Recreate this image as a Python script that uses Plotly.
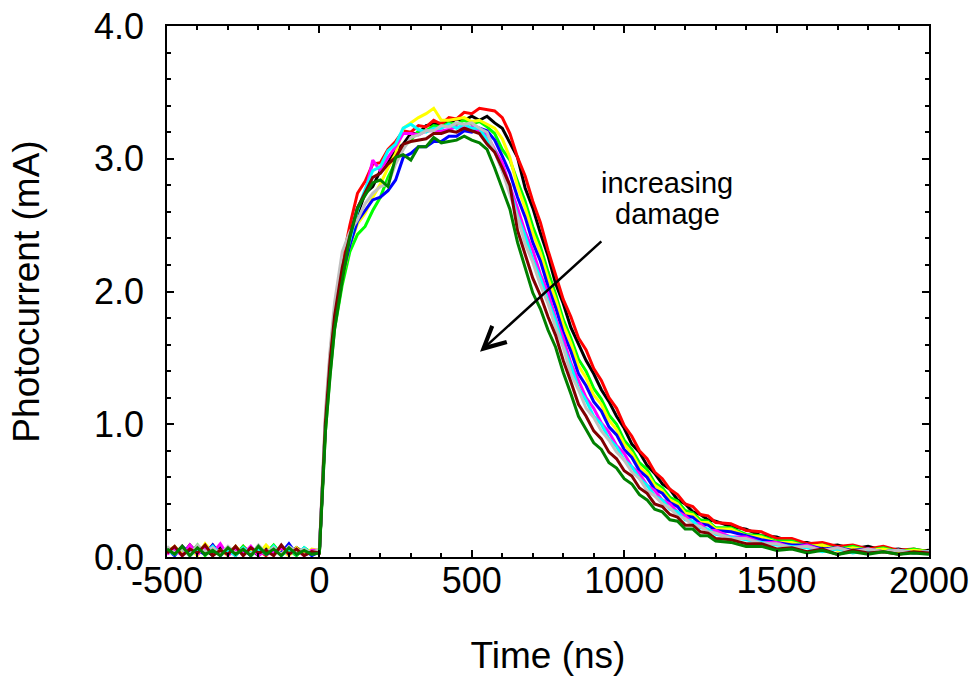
import plotly.graph_objects as go

# sample times (ns)
time_ns = [-500, -475, -450, -425, -400, -375, -350, -325, -300, -275, -250, -225, -200, -175, -150, -125, -100, -75, -50, -25,
           0, 10, 20, 35, 50, 75,
           100, 125, 150, 175, 200, 225, 250, 275, 300, 325, 350, 375, 400, 425, 450, 475, 500, 525, 550, 575, 600, 625, 650,
           675, 700, 725, 750, 775, 800, 825, 850, 875, 900, 925, 950, 975, 1000, 1025, 1050, 1075, 1100, 1125, 1150, 1175,
           1200, 1225, 1250, 1275, 1300,
           1350, 1400, 1450, 1500, 1550, 1600, 1650, 1700, 1750, 1800, 1850, 1900, 1950, 2000]

# photocurrent traces (mA)
red = [0.05, 0.02, 0.08, 0.01, 0.07, 0.03, 0.09, 0.02, 0.06, 0.01, 0.08, 0.03, 0.05, 0.01, 0.07, 0.02, 0.06, 0.03, 0.05, 0.02,
       0.04, 0.57, 1.05, 1.52, 1.86, 2.22,
       2.50, 2.74, 2.83, 2.96, 2.97, 3.07, 3.13, 3.21, 3.20, 3.25, 3.24, 3.29, 3.26, 3.31, 3.30, 3.35, 3.34, 3.38, 3.37, 3.36, 3.31, 3.19, 3.01,
       2.87, 2.68, 2.52, 2.31, 2.13, 1.94, 1.81, 1.65, 1.56, 1.42, 1.33, 1.20, 1.12, 0.99, 0.91, 0.80, 0.74, 0.64, 0.59, 0.51, 0.47,
       0.40, 0.38, 0.32, 0.31, 0.26,
       0.25, 0.20, 0.19, 0.14, 0.14, 0.10, 0.11, 0.08, 0.09, 0.06, 0.08, 0.05, 0.06, 0.04]
black = [0.03, 0.07, 0.02, 0.09, 0.03, 0.06, 0.01, 0.08, 0.02, 0.07, 0.03, 0.06, 0.01, 0.08, 0.02, 0.06, 0.02, 0.07, 0.03, 0.04,
         0.05, 0.53, 1.00, 1.45, 1.80, 2.15,
         2.40, 2.58, 2.74, 2.79, 2.91, 2.97, 3.06, 3.11, 3.19, 3.19, 3.25, 3.26, 3.27, 3.27, 3.30, 3.29, 3.32, 3.29, 3.32, 3.27, 3.23, 3.12, 3.01,
         2.78, 2.63, 2.44, 2.27, 2.06, 1.91, 1.73, 1.61, 1.48, 1.38, 1.26, 1.17, 1.06, 0.97, 0.85, 0.79, 0.69, 0.63, 0.55, 0.51, 0.43,
         0.40, 0.34, 0.32, 0.28, 0.27,
         0.23, 0.21, 0.16, 0.15, 0.11, 0.11, 0.08, 0.09, 0.06, 0.08, 0.05, 0.06, 0.04, 0.05]
lime = [0.07, 0.03, 0.06, 0.02, 0.09, 0.01, 0.07, 0.03, 0.05, 0.02, 0.08, 0.01, 0.06, 0.03, 0.09, 0.02, 0.05, 0.01, 0.07, 0.03,
        0.04, 0.50, 0.95, 1.38, 1.72, 2.05,
        2.30, 2.43, 2.49, 2.61, 2.71, 2.86, 2.97, 3.09, 3.14, 3.21, 3.21, 3.25, 3.24, 3.27, 3.26, 3.29, 3.26, 3.28, 3.24, 3.19, 3.07, 2.99, 2.83,
        2.68, 2.49, 2.34, 2.15, 1.98, 1.79, 1.65, 1.49, 1.40, 1.27, 1.19, 1.07, 1.00, 0.88, 0.81, 0.71, 0.66, 0.56, 0.52, 0.45, 0.42,
        0.35, 0.33, 0.28, 0.27, 0.22,
        0.22, 0.17, 0.16, 0.12, 0.12, 0.08, 0.09, 0.06, 0.08, 0.05, 0.07, 0.04, 0.06, 0.04]
yellow = [0.04, 0.08, 0.02, 0.06, 0.01, 0.10, 0.03, 0.05, 0.01, 0.08, 0.02, 0.06, 0.02, 0.09, 0.03, 0.05, 0.01, 0.07, 0.02, 0.06,
          0.05, 0.52, 0.98, 1.42, 1.77, 2.10,
          2.35, 2.51, 2.59, 2.71, 2.81, 2.93, 3.04, 3.23, 3.27, 3.31, 3.34, 3.38, 3.29, 3.29, 3.30, 3.31, 3.28, 3.29, 3.26, 3.23, 3.15, 3.01, 2.79,
          2.63, 2.44, 2.29, 2.10, 1.94, 1.75, 1.61, 1.44, 1.35, 1.22, 1.15, 1.03, 0.96, 0.85, 0.78, 0.68, 0.63, 0.54, 0.50, 0.43, 0.40,
          0.33, 0.32, 0.26, 0.26, 0.21,
          0.21, 0.16, 0.15, 0.11, 0.11, 0.08, 0.09, 0.05, 0.07, 0.05, 0.06, 0.04, 0.05, 0.04]
blue = [0.06, 0.01, 0.08, 0.03, 0.05, 0.02, 0.09, 0.01, 0.07, 0.03, 0.06, 0.01, 0.08, 0.02, 0.05, 0.03, 0.10, 0.02, 0.06, 0.01,
        0.04, 0.54, 1.00, 1.44, 1.78, 2.12,
        2.35, 2.53, 2.61, 2.69, 2.71, 2.76, 2.84, 3.01, 3.04, 3.09, 3.09, 3.13, 3.13, 3.17, 3.17, 3.21, 3.20, 3.23, 3.21, 3.14, 3.02, 2.89, 2.71,
        2.56, 2.37, 2.23, 2.04, 1.88, 1.69, 1.55, 1.38, 1.29, 1.17, 1.10, 0.98, 0.92, 0.81, 0.75, 0.65, 0.60, 0.51, 0.48, 0.41, 0.38,
        0.31, 0.30, 0.25, 0.24, 0.20,
        0.19, 0.16, 0.13, 0.11, 0.09, 0.09, 0.06, 0.07, 0.05, 0.06, 0.04, 0.05, 0.03, 0.04]
magenta = [0.02, 0.06, 0.01, 0.09, 0.02, 0.07, 0.03, 0.10, 0.01, 0.06, 0.02, 0.08, 0.01, 0.05, 0.03, 0.07, 0.02, 0.06, 0.01, 0.05,
           0.05, 0.55, 1.02, 1.47, 1.81, 2.16,
           2.40, 2.63, 2.74, 2.99, 2.91, 3.01, 3.09, 3.19, 3.19, 3.18, 3.21, 3.21, 3.21, 3.22, 3.24, 3.23, 3.24, 3.21, 3.18, 3.07, 2.97, 2.79, 2.63,
           2.45, 2.31, 2.13, 1.99, 1.80, 1.65, 1.46, 1.33, 1.20, 1.12, 1.01, 0.94, 0.84, 0.78, 0.68, 0.63, 0.54, 0.50, 0.43, 0.40, 0.34,
           0.31, 0.26, 0.25, 0.20, 0.20,
           0.15, 0.15, 0.11, 0.11, 0.07, 0.09, 0.05, 0.07, 0.04, 0.06, 0.04, 0.05, 0.03, 0.04]
cyan = [0.05, 0.02, 0.07, 0.01, 0.06, 0.03, 0.08, 0.02, 0.05, 0.01, 0.07, 0.03, 0.06, 0.02, 0.08, 0.01, 0.06, 0.02, 0.07, 0.02,
        0.04, 0.56, 1.03, 1.48, 1.82, 2.17,
        2.40, 2.61, 2.77, 2.91, 2.94, 3.06, 3.11, 3.23, 3.26, 3.22, 3.20, 3.23, 3.23, 3.26, 3.23, 3.26, 3.23, 3.23, 3.14, 3.06, 2.91, 2.77, 2.57,
        2.42, 2.24, 2.10, 1.93, 1.78, 1.59, 1.44, 1.27, 1.18, 1.06, 1.00, 0.89, 0.83, 0.73, 0.68, 0.59, 0.54, 0.46, 0.43, 0.36, 0.34,
        0.28, 0.27, 0.22, 0.21, 0.17,
        0.15, 0.13, 0.11, 0.09, 0.08, 0.07, 0.04, 0.06, 0.03, 0.05, 0.04, 0.05, 0.03, 0.04]
gray = [0.08, 0.03, 0.06, 0.02, 0.09, 0.04, 0.07, 0.02, 0.08, 0.03, 0.06, 0.02, 0.09, 0.03, 0.07, 0.02, 0.08, 0.04, 0.06, 0.03,
        0.06, 0.60, 1.10, 1.56, 1.92, 2.30,
        2.45, 2.54, 2.66, 2.74, 2.79, 2.81, 2.96, 3.07, 3.16, 3.18, 3.21, 3.21, 3.25, 3.24, 3.27, 3.26, 3.27, 3.23, 3.20, 3.05, 2.91, 2.73, 2.56,
        2.36, 2.22, 2.05, 1.91, 1.73, 1.58, 1.38, 1.26, 1.12, 1.05, 0.95, 0.88, 0.79, 0.73, 0.64, 0.59, 0.50, 0.46, 0.40, 0.37, 0.31,
        0.29, 0.24, 0.23, 0.19, 0.18,
        0.14, 0.14, 0.10, 0.10, 0.07, 0.08, 0.05, 0.07, 0.04, 0.06, 0.04, 0.05, 0.03, 0.04]
maroon = [0.03, 0.08, 0.01, 0.06, 0.03, 0.09, 0.01, 0.05, 0.02, 0.08, 0.01, 0.07, 0.03, 0.05, 0.01, 0.09, 0.02, 0.06, 0.01, 0.04,
          0.03, 0.55, 1.02, 1.48, 1.82, 2.18,
          2.42, 2.63, 2.74, 2.86, 2.89, 2.96, 3.01, 3.11, 3.13, 3.14, 3.15, 3.19, 3.19, 3.21, 3.20, 3.23, 3.21, 3.19, 3.11, 3.05, 2.93, 2.80, 2.46,
          2.28, 2.10, 1.97, 1.81, 1.67, 1.48, 1.32, 1.15, 1.06, 0.95, 0.89, 0.79, 0.74, 0.65, 0.61, 0.52, 0.48, 0.40, 0.38, 0.32, 0.30,
          0.24, 0.24, 0.19, 0.18, 0.14,
          0.13, 0.10, 0.10, 0.06, 0.07, 0.04, 0.06, 0.02, 0.05, 0.03, 0.04, 0.02, 0.04, 0.03]
green = [0.06, 0.02, 0.08, 0.01, 0.07, 0.02, 0.05, 0.01, 0.07, 0.02, 0.06, 0.01, 0.08, 0.02, 0.06, 0.01, 0.07, 0.02, 0.05, 0.02,
         0.03, 0.50, 0.95, 1.36, 1.72, 2.08,
         2.41, 2.63, 2.72, 2.82, 2.84, 2.79, 3.01, 3.03, 2.99, 3.09, 3.09, 3.16, 3.12, 3.13, 3.14, 3.17, 3.14, 3.12, 3.07, 2.93, 2.77, 2.62, 2.37,
         2.17, 1.99, 1.87, 1.71, 1.58, 1.39, 1.23, 1.06, 0.96, 0.86, 0.81, 0.71, 0.67, 0.59, 0.55, 0.47, 0.43, 0.36, 0.34, 0.28, 0.27,
         0.21, 0.21, 0.16, 0.16, 0.12,
         0.11, 0.08, 0.08, 0.05, 0.06, 0.03, 0.05, 0.02, 0.04, 0.02, 0.04, 0.02, 0.03, 0.02]

series = [
    ("black", black, "#000000"),
    ("red", red, "#FF0000"),
    ("lime", lime, "#00FF00"),
    ("yellow", yellow, "#FFFF00"),
    ("blue", blue, "#0000FF"),
    ("magenta", magenta, "#FF00FF"),
    ("cyan", cyan, "#00FFFF"),
    ("gray", gray, "#C0C0C0"),
    ("maroon", maroon, "#800000"),
    ("green", green, "#008000"),
]

x_tickvals = [-500, 0, 500, 1000, 1500, 2000]
x_ticktext = ["-500", "0", "500", "1000", "1500", "2000"]
y_tickvals = [0, 1, 2, 3, 4]
y_ticktext = ["0.0", "1.0", "2.0", "3.0", "4.0"]

FONT = "Liberation Sans, Arial, sans-serif"

fig = go.Figure()
for name, vals, col in series:
    n = min(len(time_ns), len(vals))
    fig.add_trace(go.Scatter(x=time_ns[:n], y=vals[:n], mode="lines", name=name,
                             line=dict(color=col, width=3), showlegend=False))

axis_common = dict(
    showline=True, linecolor="black", linewidth=1.5, mirror="allticks",
    ticks="inside", ticklen=7, tickwidth=1.5, tickcolor="black",
    showgrid=False, zeroline=False,
    tickfont=dict(family=FONT, size=36, color="black"),
)

fig.update_xaxes(
    range=[-500, 2000], tickmode="array", tickvals=x_tickvals, ticktext=x_ticktext,
    minor=dict(ticks="inside", tickmode="linear", tick0=0, dtick=100, ticklen=4, tickwidth=1.5, tickcolor="black", showgrid=False),
    title=dict(text="Time (ns)", font=dict(family=FONT, size=37, color="black"), standoff=42),
    ticklabelstandoff=-9,
    **axis_common,
)
fig.update_yaxes(
    range=[0, 4], tickmode="array", tickvals=y_tickvals, ticktext=y_ticktext,
    minor=dict(ticks="inside", tickmode="linear", tick0=0, dtick=0.2, ticklen=4, tickwidth=1.5, tickcolor="black", showgrid=False),
    title=dict(text="Photocurrent (mA)", font=dict(family=FONT, size=37, color="black"), standoff=43),
    ticklabelstandoff=14,
    **axis_common,
)

fig.add_annotation(x=527, y=1.547, ax=930, ay=2.388, xref="x", yref="y", axref="x", ayref="y",
                   text="", showarrow=True, arrowhead=5, arrowsize=1.7, arrowwidth=2.5, arrowcolor="black")
fig.add_annotation(x=1142, y=2.817, xref="x", yref="y", text="increasing", showarrow=False,
                   font=dict(family=FONT, size=29, color="black"), xanchor="center", yanchor="middle")
fig.add_annotation(x=1142, y=2.584, xref="x", yref="y", text="damage", showarrow=False,
                   font=dict(family=FONT, size=29, color="black"), xanchor="center", yanchor="middle")

fig.update_layout(
    width=974, height=676,
    margin=dict(l=167, r=45, t=26, b=119, autoexpand=False),
    paper_bgcolor="white", plot_bgcolor="white",
    font=dict(family=FONT, color="black"),
    showlegend=False,
)

fig.write_html("out.html")
